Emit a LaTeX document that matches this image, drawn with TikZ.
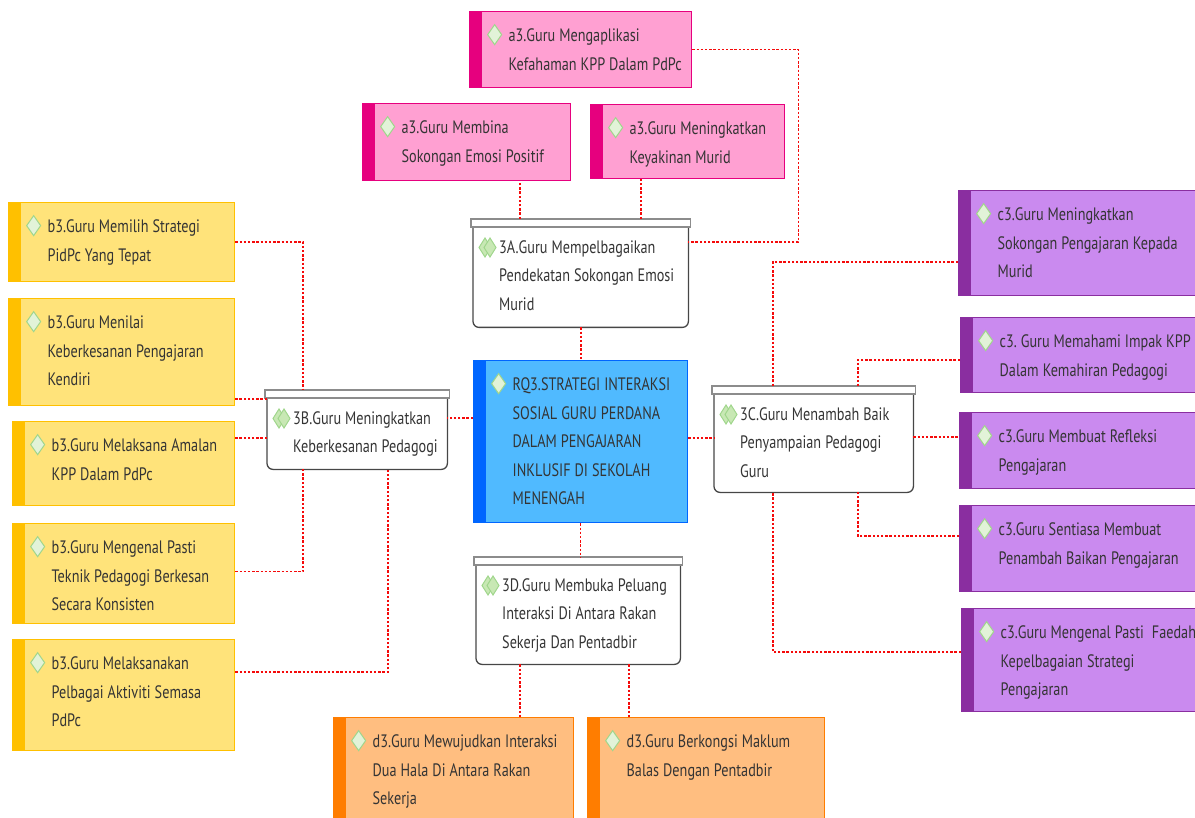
\documentclass[tikz,border=0pt]{standalone}
\usepackage{fontspec}
\setmainfont{PT Sans}[FakeStretch=0.79]
\usetikzlibrary{positioning}
\definecolor{Ink}{RGB}{52,52,52}
\definecolor{Link}{RGB}{245,10,10}
\definecolor{ABar}{RGB}{230,0,126}
\definecolor{AFill}{RGB}{255,160,210}
\definecolor{BBar}{RGB}{255,192,0}
\definecolor{BFill}{RGB}{255,227,122}
\definecolor{CBar}{RGB}{138,46,160}
\definecolor{CFill}{RGB}{202,138,239}
\definecolor{DBar}{RGB}{255,125,0}
\definecolor{DFill}{RGB}{255,190,128}
\definecolor{RBar}{RGB}{0,102,255}
\definecolor{RFill}{RGB}{80,186,255}
\definecolor{GemFill}{RGB}{226,243,216}
\definecolor{GemTwin}{RGB}{200,232,180}
\definecolor{GemLine}{RGB}{160,214,140}
\definecolor{Edge}{RGB}{70,70,70}
\definecolor{Lid}{RGB}{140,140,140}
\frenchspacing

\begin{document}
\begin{tikzpicture}[x=1pt, y=-1pt,
    every node/.style={font=\fontsize{18}{28.5}\selectfont, text=Ink},
    link/.style={draw=Link, line width=1.6pt, dash pattern=on 2.4pt off 1.8pt},
    gem/.style={fill=GemFill, draw=GemLine, line width=1pt},
    leaf/.style 2 args={rectangle, draw=#1, fill=#2, line width=1.3pt, anchor=north west,
      inner sep=0pt, text height=30pt,
      execute at begin node={\leftskip=39pt\rightskip=-40pt\spaceskip=4pt plus 1pt minus 1pt},
      path picture={
        \fill[#1] (path picture bounding box.north west) rectangle ([xshift=12pt]path picture bounding box.south west);
        \filldraw[gem] ([shift={(25pt,-13pt)}]path picture bounding box.north west)
          -- ++(7pt,-10pt) -- ++(-7pt,-10pt) -- ++(-7pt,10pt) -- cycle;}},
    topic/.style={rectangle, anchor=north west, inner sep=0pt, text height=34pt,
      execute at begin node={\leftskip=26pt\rightskip=-40pt\spaceskip=4pt plus 1pt minus 1pt},
      append after command={\pgfextra{\let\topicnode\tikzlastnode
        \draw[line width=1.3pt, draw=Edge, rounded corners=6pt]
          ([yshift=-8pt]\topicnode.north west) -- (\topicnode.south west)
          -- (\topicnode.south east) -- ([yshift=-8pt]\topicnode.north east);
        \draw[line width=1.3pt, draw=Lid, fill=white]
          ([xshift=-2pt]\topicnode.north west) rectangle ([xshift=2pt,yshift=-8pt]\topicnode.north east);
        \foreach \gx in {12,17}
          \filldraw[gem, fill=GemTwin] ([shift={(\gx pt,-19pt)}]\topicnode.north west)
            -- ++(6pt,-9.5pt) -- ++(-6pt,-9.5pt) -- ++(-6pt,9.5pt) -- cycle;}}}
  ]
\useasboundingbox (0,0) rectangle (1195,818);

\node[leaf={RBar}{RFill}, text width=214pt, text depth=132pt] (RQ) at (473,360)
  {RQ3.STRATEGI INTERAKSI\\SOSIAL GURU PERDANA\\DALAM PENGAJARAN\\INKLUSIF DI SEKOLAH\\MENENGAH};

\node[topic, text width=215pt, text depth=74pt] (tA) at (473,219)
  {3A.Guru Mempelbagaikan\\Pendekatan Sokongan Emosi\\Murid};
\node[topic, text width=180pt, text depth=45pt] (tB) at (267,390)
  {3B.Guru Meningkatkan\\Keberkesanan Pedagogi};
\node[topic, text width=199pt, text depth=72pt] (tC) at (714,386)
  {3C.Guru Menambah Baik\\Penyampaian Pedagogi\\Guru};
\node[topic, text width=204pt, text depth=73pt] (tD) at (476,557)
  {3D.Guru Membuka Peluang\\Interaksi Di Antara Rakan\\Sekerja Dan Pentadbir};

\node[leaf={ABar}{AFill}, text width=222pt, text depth=46pt] (a1) at (469,11)
  {a3.Guru Mengaplikasi\\Kefahaman KPP Dalam PdPc};
\node[leaf={ABar}{AFill}, text width=208pt, text depth=47pt] (a2) at (362,103)
  {a3.Guru Membina\\Sokongan Emosi Positif};
\node[leaf={ABar}{AFill}, text width=194pt, text depth=44pt] (a3) at (590,104)
  {a3.Guru Meningkatkan\\Keyakinan Murid};

\foreach \bn/\bx/\by/\bw/\bd/\bt in {
    b1/8/202/226/49/{b3.Guru Memilih Strategi\\PidPc Yang Tepat},
    b2/8/298/226/77/{b3.Guru Menilai\\Keberkesanan Pengajaran\\Kendiri},
    b3/12/421/222/54/{b3.Guru Melaksana Amalan\\KPP Dalam PdPc},
    b4/12/523/222/70/{b3.Guru Mengenal Pasti\\Teknik Pedagogi Berkesan\\Secara Konsisten},
    b5/12/639/222/81/{b3.Guru Melaksanakan\\Pelbagai Aktiviti Semasa\\PdPc}}
  \node[leaf={BBar}{BFill}, text width=\bw pt, text depth=\bd pt] (\bn) at (\bx,\by) {\bt};

\foreach \bn/\bx/\by/\bw/\bd/\bt in {
    c1/958/190/237/75/{c3.Guru Meningkatkan\\Sokongan Pengajaran Kepada\\Murid},
    c2/960/317/235/45/{c3. Guru Memahami Impak KPP\\Dalam Kemahiran Pedagogi},
    c3/959/412/236/46/{c3.Guru Membuat Refleksi\\Pengajaran},
    c4/959/505/236/56/{c3.Guru Sentiasa Membuat\\Penambah Baikan Pengajaran},
    c5/961/608/234/73/{c3.Guru Mengenal Pasti~ Faedah\\Kepelbagaian Strategi\\Pengajaran}}
  \node[leaf={CBar}{CFill}, text width=\bw pt, text depth=\bd pt] (\bn) at (\bx,\by) {\bt};

\node[leaf={DBar}{DFill}, text width=240pt, text depth=80pt] (d1) at (333,717)
  {d3.Guru Mewujudkan Interaksi\\Dua Hala Di Antara Rakan\\Sekerja};
\node[leaf={DBar}{DFill}, text width=237pt, text depth=80pt] (d2) at (587,717)
  {d3.Guru Berkongsi Maklum\\Balas Dengan Pentadbir};

\draw[link] (a1.east) -| ([xshift=110pt,yshift=-23pt]tA.north east) -- ([yshift=-23pt]tA.north east);
\draw[link] ([xshift=47pt]tA.north west) -- ([xshift=47pt]tA.north west |- a2.south);
\draw[link] ([xshift=168pt]tA.north west) -- ([xshift=168pt]tA.north west |- a3.south);
\draw[link] (tA.south) -- (tA.south |- RQ.north);
\draw[link] ([yshift=-58pt]RQ.north west) -- ([yshift=-58pt]RQ.north west -| tB.east);
\draw[link] ([yshift=-78pt]RQ.north east) -- ([yshift=-78pt]RQ.north east -| tC.west);
\draw[link] (RQ.south) -- (RQ.south |- tD.north);

\draw[link] (b1.east) -| ([xshift=36pt]tB.north west);
\draw[link] ([yshift=-9pt]tB.north west) -- ([yshift=-9pt]tB.north west -| b2.east);
\draw[link] ([yshift=-48pt]tB.north west) -- ([yshift=-48pt]tB.north west -| b3.east);
\draw[link] ([yshift=2pt]b4.east) -| ([xshift=36pt]tB.south west);
\draw[link] ([yshift=-33pt]b5.north east) -| ([xshift=121pt]tB.south west);

\draw[link] ([yshift=-72pt]c1.north west) -| ([xshift=59pt]tC.north west);
\draw[link] ([yshift=-43pt]c2.north west) -| ([xshift=144pt]tC.north west);
\draw[link] ([yshift=-51pt]tC.north east) -- ([yshift=-51pt]tC.north east -| c3.west);
\draw[link] ([yshift=-31pt]c4.north west) -| ([xshift=144pt]tC.south west);
\draw[link] ([yshift=-44pt]c5.north west) -| ([xshift=59pt]tC.south west);

\draw[link] ([xshift=44pt]tD.south west) -- ([xshift=44pt]tD.south west |- d1.north);
\draw[link] ([xshift=153pt]tD.south west) -- ([xshift=153pt]tD.south west |- d2.north);
\end{tikzpicture}
\end{document}
